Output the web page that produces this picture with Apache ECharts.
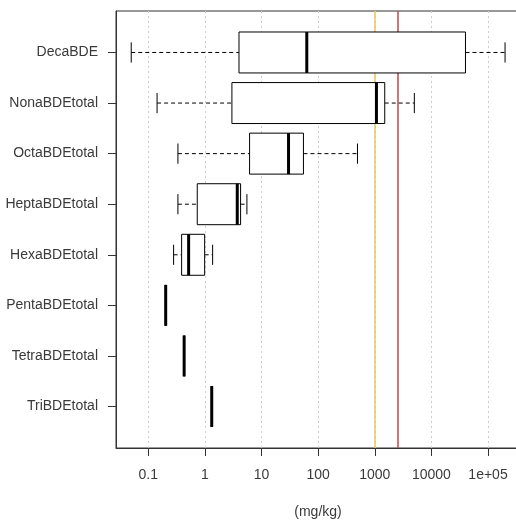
<!DOCTYPE html>
<html>
<head>
<meta charset="utf-8">
<script src="https://cdn.jsdelivr.net/npm/echarts@6/dist/echarts.min.js"></script>
<style>html,body{margin:0;padding:0;background:#fff}#c{width:516px;height:523px}</style>
</head>
<body>
<div id="c"></div>
<script>
// Categories (top to bottom)
const categories = ['DecaBDE','NonaBDEtotal','OctaBDEtotal','HeptaBDEtotal','HexaBDEtotal','PentaBDEtotal','TetraBDEtotal','TriBDEtotal'];
// Box statistics (mg/kg)
const whiskerLow  = [0.05, 0.143, 0.334, 0.334, 0.28, 0.203, 0.43, 1.32];
const q1          = [4.0,  3.0,   6.15,  0.733, 0.388, 0.203, 0.43, 1.32];
const median      = [63,   1070,  30,    3.73,  0.516, 0.203, 0.43, 1.32];
const q3          = [40000,1500,  55,    4.27,  0.99,  0.203, 0.43, 1.32];
const whiskerHigh = [200000,5000, 495,   5.52,  1.37,  0.203, 0.43, 1.32];
// Reference lines
const refLines = [1000, 2500];
const refColors = ['#e8c85a', '#c04848'];
// X tick values and labels
const tickValues = [0.1, 1, 10, 100, 1000, 10000, 100000];
const tickLabels = ['0.1', '1', '10', '100', '1000', '10000', '1e+05'];

const boxData = categories.map((c, i) => [i + 1, whiskerLow[i], q1[i], median[i], q3[i], whiskerHigh[i]]);

const chart = echarts.init(document.getElementById('c'), null, {renderer: 'canvas'});
const textColor = '#3a3a3a';
const font = 'Liberation Sans, Arial, sans-serif';
const option = {
  animation: false,
  grid: {left: 116, top: 11, width: 404, bottom: 75, outerBoundsMode: 'none', containLabel: false, show: true, borderColor: '#333', borderWidth: 1, backgroundColor: 'transparent'},
  xAxis: {
    type: 'log', logBase: 10,
    min: Math.pow(10, -1.57), max: Math.pow(10, 5.565),
    name: '(mg/kg)', nameLocation: 'middle', nameGap: 57,
    nameTextStyle: {color: textColor, fontSize: 14, fontFamily: font},
    axisLine: {show: true, onZero: false, lineStyle: {color: '#333'}},
    axisTick: {show: true, length: 8, lineStyle: {color: '#333'}, customValues: tickValues},
    axisLabel: {customValues: tickValues, margin: 20, color: textColor, fontSize: 14, fontFamily: font,
      formatter: v => { const k = tickValues.findIndex(t => Math.abs(Math.log10(t) - Math.log10(v)) < 1e-6); return k >= 0 ? tickLabels[k] : ''; }},
    splitLine: {show: false}
  },
  yAxis: {
    type: 'value', inverse: true, min: 0.18, max: 8.82,
    axisLine: {show: true, lineStyle: {color: '#333'}},
    axisTick: {show: true, length: 8, lineStyle: {color: '#333'}, customValues: categories.map((c, i) => i + 1)},
    axisLabel: {customValues: categories.map((c, i) => i + 1), margin: 18, color: textColor, fontSize: 14, fontFamily: font,
      formatter: v => categories[Math.round(v) - 1] || ''},
    splitLine: {show: false}
  },
  series: [
    {
      type: 'line', data: [], silent: true,
      markLine: {
        silent: true, symbol: 'none', label: {show: false},
        lineStyle: {color: '#cccccc', type: [2, 3], width: 1},
        data: tickValues.map(v => ({xAxis: v}))
      }
    },
    {
      type: 'custom',
      data: boxData,
      encode: {x: [1, 2, 3, 4, 5], y: 0},
      z: 5,
      renderItem: function (params, api) {
        const y = api.value(0);
        const lo = api.value(1), a = api.value(2), m = api.value(3), b = api.value(4), hi = api.value(5);
        const top = api.coord([m, y - 0.405])[1];
        const bot = api.coord([m, y + 0.405])[1];
        const ctr = api.coord([m, y])[1];
        const capTop = api.coord([m, y - 0.2])[1];
        const capBot = api.coord([m, y + 0.2])[1];
        const xlo = api.coord([lo, y])[0], xa = api.coord([a, y])[0], xm = api.coord([m, y])[0], xb = api.coord([b, y])[0], xhi = api.coord([hi, y])[0];
        const dashed = {stroke: '#000', lineWidth: 1, lineDash: [4, 3]};
        const children = [];
        if (xa - xlo > 0.5) children.push({type: 'line', shape: {x1: xlo, y1: ctr, x2: xa, y2: ctr}, style: dashed});
        if (xhi - xb > 0.5) children.push({type: 'line', shape: {x1: xb, y1: ctr, x2: xhi, y2: ctr}, style: dashed});
        children.push({type: 'line', shape: {x1: xlo, y1: capTop, x2: xlo, y2: capBot}, style: {stroke: '#000', lineWidth: 1}});
        children.push({type: 'line', shape: {x1: xhi, y1: capTop, x2: xhi, y2: capBot}, style: {stroke: '#000', lineWidth: 1}});
        children.push({type: 'rect', shape: {x: xa, y: top, width: xb - xa, height: bot - top}, style: {stroke: '#000', lineWidth: 1, fill: '#fff'}});
        children.push({type: 'line', shape: {x1: xm, y1: top, x2: xm, y2: bot}, style: {stroke: '#000', lineWidth: 3}});
        return {type: 'group', children: children};
      }
    },
    {
      type: 'line', data: [], silent: true, z: 6,
      markLine: {
        silent: true, symbol: 'none', label: {show: false},
        data: refLines.map((v, i) => ({xAxis: v, lineStyle: {color: refColors[i], type: 'solid', width: 1.5}}))
      }
    }
  ]
};
chart.setOption(option);
</script>
</body>
</html>
